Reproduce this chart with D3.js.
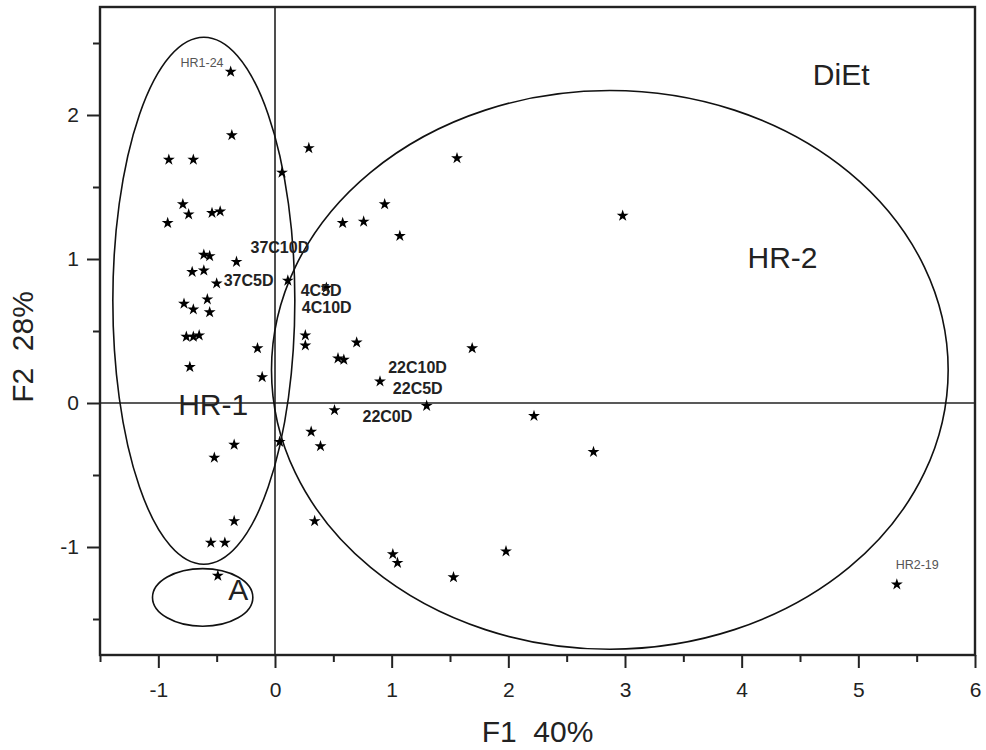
<!DOCTYPE html>
<html>
<head>
<meta charset="utf-8">
<script src="https://cdn.jsdelivr.net/npm/d3@7"></script>
<style>
  body { margin: 0; background: #fff; }
  text { font-family: "Liberation Sans", Arial, sans-serif; }
</style>
</head>
<body>
<svg id="chart" width="986" height="750"></svg>
<script>
// F1 / F2 scores
const f1 = [
  -0.38, -0.37, -0.91, -0.70, -0.79, -0.74, -0.54, -0.47, -0.92, -0.61,
  -0.56, -0.33, -0.71, -0.61, -0.50, -0.78, -0.58, -0.70, -0.56, -0.76,
  -0.70, -0.65, -0.73, -0.15, -0.11, -0.35, -0.52, -0.35, -0.55, -0.43,
  -0.49, 0.06, 0.29, 0.11, 0.44, 0.26, 0.26, 0.70, 0.54, 0.59,
  0.90, 0.51, 1.30, 0.04, 0.31, 0.39, 0.34, 0.58, 0.76, 0.94,
  1.07, 1.56, 1.69, 1.01, 1.05, 1.53, 1.98, 2.22, 2.73, 2.98,
  5.33
];
const f2 = [
  2.30, 1.86, 1.69, 1.69, 1.38, 1.31, 1.32, 1.33, 1.25, 1.03,
  1.02, 0.98, 0.91, 0.92, 0.83, 0.69, 0.72, 0.65, 0.63, 0.46,
  0.46, 0.47, 0.25, 0.38, 0.18, -0.29, -0.38, -0.82, -0.97, -0.97,
  -1.20, 1.60, 1.77, 0.85, 0.80, 0.47, 0.40, 0.42, 0.31, 0.30,
  0.15, -0.05, -0.02, -0.27, -0.20, -0.30, -0.82, 1.25, 1.26, 1.38,
  1.16, 1.70, 0.38, -1.05, -1.11, -1.21, -1.03, -0.09, -0.34, 1.30,
  -1.26
];

// group ellipses: centre and half-axes in score units
const groupNames = ["HR-1", "HR-2", "A"];
const groupCx = [-0.61, 2.87, -0.62];
const groupCy = [0.71, 0.23, -1.35];
const groupRx = [0.78, 2.90, 0.43];
const groupRy = [1.83, 1.94, 0.20];

// sample labels (bold) and their anchor in score units
const sampleLabels = ["37C10D", "37C5D", "4C5D", "4C10D", "22C10D", "22C5D", "22C0D"];
const sampleLx = [-0.21, -0.44, 0.22, 0.23, 0.97, 1.01, 0.75];
const sampleLy = [1.04, 0.81, 0.74, 0.625, 0.21, 0.06, -0.13];

// small id labels
const idLabels = ["HR1-24", "HR2-19"];
const idLx = [-0.81, 5.32];
const idLy = [2.33, -1.15];

// large group / solvent labels
const bigLabels = ["HR-1", "HR-2", "DiEt", "A"];
const bigLx = [-0.83, 4.05, 4.61, -0.40];
const bigLy = [-0.08, 0.94, 2.21, -1.37];

const xMajor = [-1, 0, 1, 2, 3, 4, 5, 6];
const xMinor = [-1.5, -0.5, 0.5, 1.5, 2.5, 3.5, 4.5, 5.5];
const yMajor = [-1, 0, 1, 2];
const yMinor = [-1.5, -0.5, 0.5, 1.5, 2.5];

const ink = "#222";

let svg = d3.select("#chart");

let x = d3.scaleLinear().domain([-1.5, 6]).range([100, 975]);
let y = d3.scaleLinear().domain([-1.75, 2.75]).range([655, 7]);

// minor ticks
svg.append("g")
    .attr("transform", `translate(0,${y(-1.75)})`)
    .call(d3.axisBottom(x).tickValues(xMinor).tickSize(7).tickFormat(""))
    .call(g => g.select(".domain").remove());
svg.append("g")
    .attr("transform", `translate(${x(-1.5)},0)`)
    .call(d3.axisLeft(y).tickValues(yMinor).tickSize(7).tickFormat(""))
    .call(g => g.select(".domain").remove());

// major ticks
let xAxis = svg.append("g")
    .attr("transform", `translate(0,${y(-1.75)})`)
    .call(d3.axisBottom(x).tickValues(xMajor).tickSize(13).tickPadding(14).tickFormat(d3.format("d")))
    .call(g => g.select(".domain").remove());
let yAxis = svg.append("g")
    .attr("transform", `translate(${x(-1.5)},0)`)
    .call(d3.axisLeft(y).tickValues(yMajor).tickSize(13).tickPadding(8).tickFormat(d3.format("d")))
    .call(g => g.select(".domain").remove());

svg.selectAll(".tick line").attr("stroke", ink).attr("stroke-width", 2);
[xAxis, yAxis].forEach(a => a.selectAll("text")
    .attr("font-family", "Liberation Sans, Arial, sans-serif")
    .attr("font-size", 21)
    .attr("fill", ink)
    .text(d => d < 0 ? "-" + Math.abs(d) : d));

// frame
svg.append("rect")
    .attr("x", x(-1.5)).attr("y", y(2.75))
    .attr("width", x(6) - x(-1.5)).attr("height", y(-1.75) - y(2.75))
    .attr("fill", "none").attr("stroke", ink).attr("stroke-width", 2.4);

// zero lines
svg.append("line")
    .attr("x1", x(0)).attr("x2", x(0)).attr("y1", y(2.75)).attr("y2", y(-1.75))
    .attr("stroke", ink).attr("stroke-width", 1.6);
svg.append("line")
    .attr("x1", x(-1.5)).attr("x2", x(6)).attr("y1", y(0)).attr("y2", y(0))
    .attr("stroke", ink).attr("stroke-width", 1.6);

// ellipses
svg.append("g").selectAll("ellipse")
    .data(groupNames)
    .join("ellipse")
    .attr("cx", (d, i) => x(groupCx[i]))
    .attr("cy", (d, i) => y(groupCy[i]))
    .attr("rx", (d, i) => x(groupCx[i] + groupRx[i]) - x(groupCx[i]))
    .attr("ry", (d, i) => y(groupCy[i] - groupRy[i]) - y(groupCy[i]))
    .attr("fill", "none")
    .attr("stroke", "#111")
    .attr("stroke-width", 1.6);

// points
let star = d3.symbol(d3.symbolStar, 44);
svg.append("g").selectAll("path")
    .data(f1.map((v, i) => [v, f2[i]]))
    .join("path")
    .attr("d", star)
    .attr("transform", d => `translate(${x(d[0])},${y(d[1])})`)
    .attr("fill", "#000");

// labels
svg.append("g").selectAll("text")
    .data(sampleLabels)
    .join("text")
    .attr("x", (d, i) => x(sampleLx[i]))
    .attr("y", (d, i) => y(sampleLy[i]))
    .attr("font-size", 16)
    .attr("font-weight", "bold")
    .attr("fill", ink)
    .text(d => d);

svg.append("g").selectAll("text")
    .data(idLabels)
    .join("text")
    .attr("x", (d, i) => x(idLx[i]))
    .attr("y", (d, i) => y(idLy[i]))
    .attr("font-size", 12.5)
    .attr("fill", "#555")
    .text(d => d);

svg.append("g").selectAll("text")
    .data(bigLabels)
    .join("text")
    .attr("x", (d, i) => x(bigLx[i]))
    .attr("y", (d, i) => y(bigLy[i]))
    .attr("font-size", 30)
    .attr("fill", ink)
    .text(d => d);

// axis titles
svg.append("text")
    .attr("x", (x(-1.5) + x(6)) / 2)
    .attr("y", 742)
    .attr("text-anchor", "middle")
    .attr("font-size", 30)
    .attr("fill", ink)
    .text("F1\u00a0\u00a040%");

svg.append("text")
    .attr("transform", "translate(33,347) rotate(-90)")
    .attr("text-anchor", "middle")
    .attr("font-size", 30)
    .attr("fill", ink)
    .text("F2\u00a0\u00a028%");
</script>
</body>
</html>
